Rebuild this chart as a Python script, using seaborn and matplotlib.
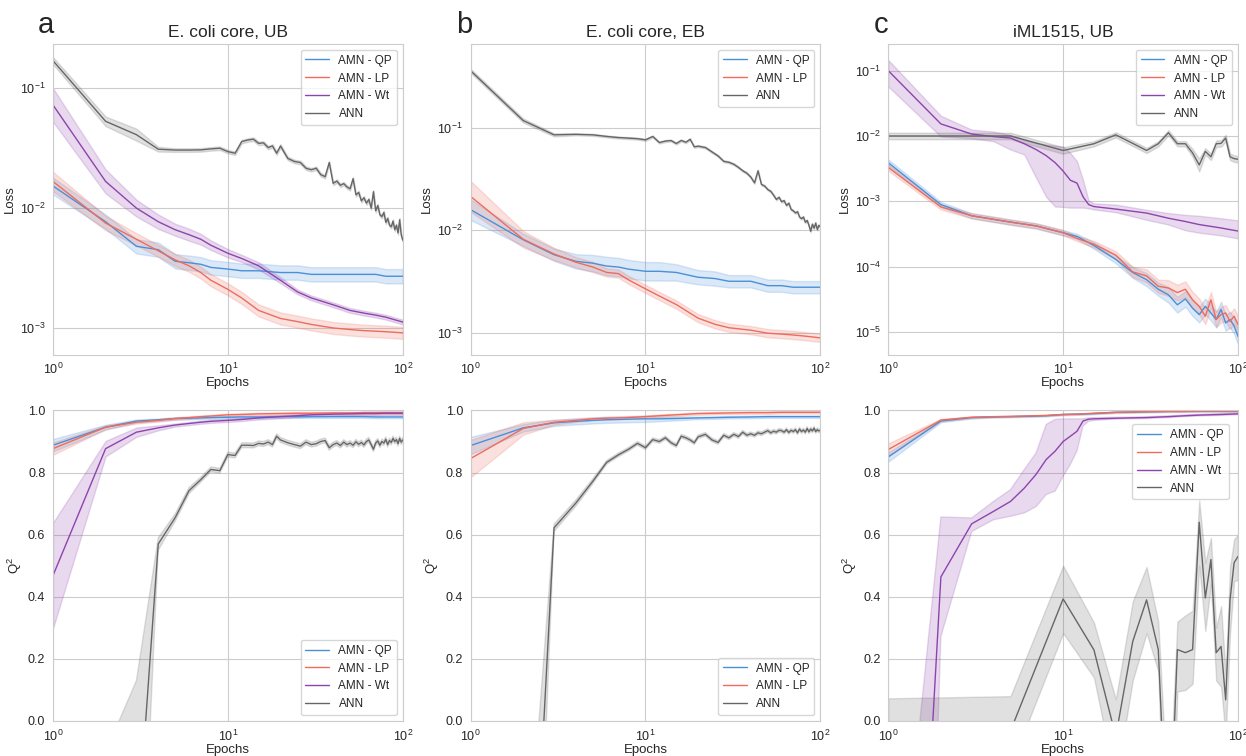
"""
    Loss and Q2 curves for AMN variants vs ANN
"""

import numpy as np
import pandas as pd
import seaborn as sns
import matplotlib.pyplot as plt

# ---------------------------------------------------------------- DATA
# epoch grids
E_S = [1, 2, 3, 4, 5, 6, 7, 8, 10, 12, 15, 20, 25, 30, 40, 50, 60, 70, 80, 90, 100]
E_N = list(range(1, 21)) + list(range(22, 101, 2))
E_C = [1, 2, 3, 5, 7, 10, 12, 15, 20, 25, 30, 35, 40, 45, 50, 55, 60, 65, 70, 75, 80, 85, 90, 95, 100]
E_W = [1, 2, 3, 4, 5, 6, 7, 8, 9, 10, 11, 12, 13, 14, 15, 20, 30, 40, 50, 60, 80, 100]
E_5 = [1, 5, 10, 15, 20, 25, 30, 35, 40, 45, 50, 55, 60, 65, 70, 75, 80, 85, 90, 95, 100]

# panel a, loss (E. coli core, UB)
a_loss_qp = [0.0153, 0.0077, 0.0048, 0.0045, 0.0036, 0.0035, 0.0034, 0.0032, 0.0031, 0.0030, 0.0030,
             0.0029, 0.0029, 0.0028, 0.0028, 0.0028, 0.0028, 0.0028, 0.0027, 0.0027, 0.0027]
a_loss_lp = [0.0167, 0.0075, 0.0055, 0.0044, 0.0037, 0.0033, 0.0029, 0.0025, 0.0021, 0.00178, 0.0014,
             0.0012, 0.00113, 0.00107, 0.0010, 0.00097, 0.00095, 0.00094, 0.00093, 0.00092, 0.00091]
a_loss_wt = [0.0726, 0.0167, 0.0100, 0.0077, 0.0066, 0.0060, 0.0055, 0.0049, 0.0042, 0.0038, 0.0033,
             0.0025, 0.0020, 0.00178, 0.00156, 0.0014, 0.00133, 0.00128, 0.00123, 0.00117, 0.00112]
a_loss_ann = [0.17, 0.053, 0.041, 0.031, 0.0305, 0.0305, 0.0306, 0.0312, 0.0316, 0.0296,
              0.0287, 0.0359, 0.037, 0.0376, 0.0347, 0.035, 0.032, 0.033, 0.0287, 0.033,
              0.026, 0.0245, 0.024, 0.0215, 0.0209, 0.0215, 0.019, 0.0183, 0.024, 0.0161,
              0.0168, 0.0155, 0.016, 0.015, 0.0145, 0.0176, 0.0129, 0.0135, 0.0115, 0.0122,
              0.011, 0.0118, 0.010, 0.0137, 0.0095, 0.0105, 0.0088, 0.0085, 0.0092, 0.0076,
              0.0082, 0.0072, 0.0070, 0.0078, 0.0066, 0.0072, 0.0062, 0.0080, 0.0060, 0.0054]
a_loss_qp_w = [0.07, 0.06]
a_loss_lp_w = [0.08, 0.06, 0.05]
a_loss_wt_w = [0.14, 0.1, 0.07, 0.06, 0.05, 0.05, 0.045, 0.04, 0.035, 0.03, 0.03, 0.025, 0.02]
a_loss_ann_w = [0.03, 0.04, 0.05, 0.02, 0.015]

# panel b, loss (E. coli core, EB)
b_loss_qp = [0.0159, 0.0081, 0.0058, 0.0050, 0.0048, 0.0045, 0.0044, 0.0042, 0.0040, 0.0040, 0.0039,
             0.0035, 0.0034, 0.0032, 0.0032, 0.0029, 0.0029, 0.0028, 0.0028, 0.0028, 0.0028]
b_loss_lp = [0.0214, 0.0082, 0.0059, 0.0049, 0.0044, 0.0039, 0.0038, 0.0033, 0.0027, 0.0023, 0.0019,
             0.0014, 0.00122, 0.00113, 0.00107, 0.0010, 0.00098, 0.00096, 0.00094, 0.00092, 0.0009]
b_loss_ann = [0.357, 0.117, 0.085, 0.086, 0.085, 0.082, 0.080, 0.079, 0.078, 0.076,
              0.082, 0.0715, 0.074, 0.0748, 0.070, 0.075, 0.072, 0.077, 0.065, 0.066,
              0.064, 0.058, 0.053, 0.047, 0.046, 0.044, 0.041, 0.038, 0.036, 0.033,
              0.029, 0.038, 0.028, 0.027, 0.025, 0.024, 0.022, 0.020, 0.021, 0.019,
              0.0195, 0.0175, 0.0184, 0.016, 0.0155, 0.0148, 0.0152, 0.0135, 0.013, 0.0135,
              0.012, 0.0125, 0.0112, 0.0098, 0.0115, 0.0105, 0.0118, 0.0102, 0.0112, 0.0108]
b_loss_qp_w = [0.1, 0.06, 0.06, 0.07, 0.08, 0.09, 0.09, 0.09, 0.09, 0.09, 0.08, 0.07, 0.07, 0.06]
b_loss_lp_w = [0.15, 0.08, 0.06, 0.05, 0.05, 0.04]
b_loss_ann_w = [0.02, 0.02, 0.015, 0.01]

# panel c, loss (iML1515, UB)
c_loss_qp = [0.0039, 0.00089, 0.0006, 0.00048, 0.00042, 0.00033, 0.00029, 0.00021, 0.000129,
             8.1e-5, 6.3e-5, 4.5e-5, 3.7e-5, 2.6e-5, 3.2e-5, 2.3e-5, 1.84e-5, 2.46e-5, 1.95e-5,
             1.55e-5, 2.2e-5, 1.37e-5, 1.55e-5, 1.23e-5, 8.5e-6]
c_loss_lp = [0.0033, 0.00082, 0.0006, 0.00048, 0.00042, 0.00033, 0.00027, 0.00022, 0.00015,
             8.3e-5, 7.2e-5, 5.0e-5, 4.7e-5, 4.0e-5, 4.5e-5, 3.1e-5, 2.46e-5, 1.74e-5, 3.1e-5,
             1.55e-5, 1.84e-5, 1.95e-5, 1.45e-5, 1.74e-5, 1.3e-5]
c_loss_wt = [0.1, 0.0153, 0.0107, 0.0098, 0.0093, 0.0076, 0.0062, 0.0050, 0.0039, 0.0029, 0.0021,
             0.0019, 0.00117, 0.00089, 0.00083, 0.00076, 0.00066, 0.00055, 0.00049, 0.00044,
             0.00039, 0.00035]
c_loss_wt_lo = [0.057, 0.0098, 0.0092, 0.0083, 0.0062, 0.0052, 0.0023, 0.00117, 0.00083, 0.00082,
                0.0008, 0.0008, 0.0008, 0.00078, 0.00075, 0.00068, 0.00052, 0.00044, 0.00036,
                0.00033, 0.0003, 0.00027]
c_loss_wt_hi = [0.146, 0.0204, 0.0125, 0.0117, 0.0104, 0.0087, 0.0078, 0.0074, 0.0071, 0.0069,
                0.0055, 0.0041, 0.0021, 0.00102, 0.00093, 0.00089, 0.00074, 0.00066, 0.00062,
                0.0006, 0.00055, 0.00051]
c_loss_ann = [0.0100, 0.0100, 0.0060, 0.0076, 0.0104, 0.0077, 0.0060, 0.0076, 0.0112, 0.0076,
              0.0076, 0.0055, 0.0036, 0.0058, 0.0048, 0.0076, 0.0077, 0.0093, 0.0048, 0.0045, 0.0044]
c_loss_qp_w = [0.05, 0.04, 0.04, 0.04, 0.04, 0.04, 0.04, 0.05, 0.06, 0.08, 0.1, 0.1, 0.12]
c_loss_lp_w = [0.05, 0.04, 0.04, 0.04, 0.04, 0.04, 0.04, 0.05, 0.06, 0.08, 0.1, 0.1, 0.12]
c_loss_ann_w = [0.05, 0.05, 0.05, 0.04, 0.04, 0.04, 0.04, 0.04, 0.04, 0.04, 0.04, 0.06, 0.1, 0.05]

# panel a, Q2
a_q2_qp = [0.888, 0.946, 0.966, 0.970, 0.974, 0.975, 0.976, 0.977, 0.978, 0.979, 0.979,
           0.980, 0.980, 0.980, 0.980, 0.980, 0.980, 0.979, 0.979, 0.979, 0.979]
a_q2_lp = [0.877, 0.946, 0.962, 0.968, 0.974, 0.977, 0.980, 0.982, 0.986, 0.987, 0.989,
           0.990, 0.991, 0.991, 0.992, 0.992, 0.993, 0.993, 0.993, 0.993, 0.993]
a_q2_wt = [0.468, 0.877, 0.930, 0.944, 0.953, 0.958, 0.962, 0.965, 0.968, 0.971, 0.976,
           0.980, 0.983, 0.986, 0.988, 0.989, 0.990, 0.990, 0.991, 0.991, 0.991]
a_q2_ann = [-3.0, -1.2, -0.42, 0.57, 0.655, 0.742, 0.777, 0.81, 0.806, 0.858,
            0.855, 0.888, 0.888, 0.887, 0.894, 0.892, 0.898, 0.89, 0.917, 0.905,
            0.896, 0.89, 0.885, 0.898, 0.89, 0.893, 0.9, 0.903, 0.88, 0.89,
            0.895, 0.887, 0.898, 0.89, 0.895, 0.888, 0.899, 0.891, 0.897, 0.889,
            0.9, 0.905, 0.89, 0.875, 0.895, 0.902, 0.888, 0.9, 0.895, 0.907,
            0.89, 0.903, 0.897, 0.91, 0.9, 0.906, 0.893, 0.91, 0.898, 0.905]
a_q2_qp_w = [0.02, 0.008, 0.005, 0.004]
a_q2_lp_w = [0.02, 0.006, 0.004]
a_q2_wt_w = [0.17, 0.025, 0.015, 0.008, 0.005]
a_q2_ann_w = [1.0, 1.1, 0.55, 0.02, 0.012, 0.01, 0.008]

# panel b, Q2
b_q2_qp = [0.887, 0.944, 0.960, 0.965, 0.968, 0.970, 0.971, 0.972, 0.973, 0.973, 0.974,
           0.976, 0.977, 0.978, 0.979, 0.980, 0.980, 0.980, 0.980, 0.980, 0.980]
b_q2_lp = [0.845, 0.942, 0.962, 0.968, 0.973, 0.975, 0.976, 0.977, 0.980, 0.983, 0.986,
           0.990, 0.991, 0.992, 0.993, 0.993, 0.994, 0.994, 0.994, 0.994, 0.994]
b_q2_ann = [-4.0, -1.26, 0.622, 0.702, 0.772, 0.833, 0.857, 0.875, 0.894, 0.88,
            0.906, 0.90, 0.912, 0.896, 0.887, 0.917, 0.912, 0.905, 0.896, 0.915,
            0.923, 0.905, 0.897, 0.92, 0.912, 0.923, 0.916, 0.93, 0.92, 0.925,
            0.92, 0.928, 0.925, 0.93, 0.935, 0.928, 0.933, 0.93, 0.936, 0.935,
            0.93, 0.938, 0.929, 0.936, 0.932, 0.938, 0.928, 0.94, 0.932, 0.937,
            0.93, 0.942, 0.931, 0.94, 0.934, 0.943, 0.932, 0.938, 0.934, 0.936]
b_q2_qp_w = [0.028, 0.012, 0.01, 0.01, 0.01, 0.01, 0.01, 0.01, 0.01, 0.008, 0.006, 0.004]
b_q2_lp_w = [0.06, 0.02, 0.008, 0.005, 0.004]
b_q2_ann_w = [2.0, 0.6, 0.012, 0.01, 0.008, 0.006]

# panel c, Q2
c_q2_qp = [0.85, 0.966, 0.977, 0.979, 0.980, 0.981, 0.982, 0.983, 0.987, 0.988, 0.990,
           0.994, 0.995, 0.996, 0.997, 0.997, 0.998, 0.998, 0.998, 0.998, 0.998]
c_q2_lp = [0.874, 0.969, 0.978, 0.980, 0.981, 0.982, 0.983, 0.984, 0.987, 0.988, 0.991,
           0.994, 0.995, 0.996, 0.997, 0.997, 0.998, 0.998, 0.998, 0.998, 0.998]
c_q2_wt = [-2.57, 0.464, 0.635, 0.675, 0.707, 0.75, 0.794, 0.842, 0.869, 0.90, 0.917,
           0.933, 0.966, 0.972, 0.973, 0.975, 0.977, 0.980, 0.983, 0.985, 0.987, 0.989]
c_q2_wt_lo = [-5.0, 0.272, 0.61, 0.648, 0.659, 0.67, 0.69, 0.729, 0.74, 0.788, 0.826,
              0.869, 0.95, 0.965, 0.968, 0.972, 0.974, 0.977, 0.98, 0.982, 0.984, 0.986]
c_q2_wt_hi = [-0.99, 0.657, 0.654, 0.707, 0.745, 0.81, 0.863, 0.955, 0.971, 0.973, 0.973,
              0.973, 0.973, 0.976, 0.977, 0.978, 0.98, 0.983, 0.986, 0.988, 0.99, 0.992]
c_q2_ann = [-0.03, -0.032, 0.393, 0.229, -0.05, 0.256, 0.39, 0.23, -0.5, 0.23, 0.22,
            0.23, 0.64, 0.396, 0.52, 0.22, 0.24, 0.068, 0.39, 0.51, 0.53]
c_q2_ann_lo = [-0.14, -0.147, 0.283, 0.14, -0.2, 0.13, 0.283, 0.16, -0.8, 0.095, 0.10,
               0.12, 0.5, 0.29, 0.44, 0.13, 0.11, -0.05, 0.283, 0.45, 0.455]
c_q2_ann_hi = [0.073, 0.08, 0.50, 0.317, 0.07, 0.385, 0.496, 0.32, -0.3, 0.32, 0.34,
               0.355, 0.71, 0.51, 0.59, 0.30, 0.37, 0.15, 0.496, 0.585, 0.60]
c_q2_qp_w = [0.015, 0.004, 0.003, 0.002]
c_q2_lp_w = [0.02, 0.004, 0.003, 0.002]

TITLES = ["E. coli core, UB", "E. coli core, EB", "iML1515, UB"]
LETTERS = ["a", "b", "c"]
COLORS = {"AMN - QP": "#4a90d9", "AMN - LP": "#ee6b5d",
          "AMN - Wt": "#8e44ad", "ANN": "#666666"}


def band(mid, w, log=False):
    """lower / upper band edges from a half width (dex for log data)"""
    w = list(w)
    w = w + [w[-1]] * (len(mid) - len(w))
    mid = np.asarray(mid, float)
    w = np.asarray(w, float)
    if log:
        return mid / 10 ** w, mid * 10 ** w
    return mid - w, mid + w


def series(name, x, mid, w=None, lo=None, hi=None, log=False):
    if w is not None:
        lo, hi = band(mid, w, log)
    return (name, x, mid, lo, hi)


def frame(all_series):
    rows = []
    for name, x, mid, lo, hi in all_series:
        for xi, l, m, h in zip(x, lo, mid, hi):
            rows += [(name, xi, l), (name, xi, m), (name, xi, h)]
    return pd.DataFrame(rows, columns=["model", "epoch", "value"])


def panel(ax, all_series, log_y, legend_kw):
    ax.set_xscale("log")
    if log_y:
        ax.set_yscale("log")
    df = frame(all_series)
    order = [s[0] for s in all_series]
    sns.lineplot(data=df, x="epoch", y="value", hue="model", hue_order=order,
                 palette=COLORS, estimator="median", errorbar=("pi", 100),
                 linewidth=1.0, ax=ax)
    ax.set_xlim(1, 100)
    ax.set_xlabel("Epochs", labelpad=0)
    sns.move_legend(ax, title=None, fontsize=8.5, frameon=True, **legend_kw)


# ---------------------------------------------------------------- PLOTTING
sns.set_style("whitegrid")
plt.rcParams["font.family"] = ["Liberation Sans", "DejaVu Sans"]
plt.rcParams["mathtext.fontset"] = "custom"
plt.rcParams["mathtext.rm"] = "Liberation Sans"
plt.rcParams["mathtext.it"] = "Liberation Sans:italic"
plt.rcParams["xtick.labelsize"] = 9
plt.rcParams["ytick.labelsize"] = 9
plt.rcParams["xtick.major.pad"] = 2
plt.rcParams["ytick.major.pad"] = 2
plt.rcParams["axes.labelsize"] = 9.5

fig, axes = plt.subplots(2, 3, figsize=(12.46, 7.56), dpi=100)
fig.subplots_adjust(left=0.0425, right=0.9936, top=0.9418, bottom=0.0463,
                    wspace=0.194, hspace=0.18)

top_right = dict(loc="upper right")

# Loss row
panel(axes[0, 0], [series("AMN - QP", E_S, a_loss_qp, a_loss_qp_w, log=True),
                   series("AMN - LP", E_S, a_loss_lp, a_loss_lp_w, log=True),
                   series("AMN - Wt", E_S, a_loss_wt, a_loss_wt_w, log=True),
                   series("ANN", E_N, a_loss_ann, a_loss_ann_w, log=True)], True, top_right)
axes[0, 0].set_ylim(6e-4, 0.234)

panel(axes[0, 1], [series("AMN - QP", E_S, b_loss_qp, b_loss_qp_w, log=True),
                   series("AMN - LP", E_S, b_loss_lp, b_loss_lp_w, log=True),
                   series("ANN", E_N, b_loss_ann, b_loss_ann_w, log=True)], True, top_right)
axes[0, 1].set_ylim(6.2e-4, 0.65)

panel(axes[0, 2], [series("AMN - QP", E_C, c_loss_qp, c_loss_qp_w, log=True),
                   series("AMN - LP", E_C, c_loss_lp, c_loss_lp_w, log=True),
                   series("AMN - Wt", E_W, c_loss_wt, lo=c_loss_wt_lo, hi=c_loss_wt_hi),
                   series("ANN", E_5, c_loss_ann, c_loss_ann_w, log=True)], True, top_right)
axes[0, 2].set_ylim(4.5e-6, 0.256)

for i, ax in enumerate(axes[0]):
    ax.set_ylabel("Loss", labelpad=3)
    ax.set_title(TITLES[i], fontsize=12.5, pad=5)

# Q2 row
panel(axes[1, 0], [series("AMN - QP", E_S, a_q2_qp, a_q2_qp_w),
                   series("AMN - LP", E_S, a_q2_lp, a_q2_lp_w),
                   series("AMN - Wt", E_S, a_q2_wt, a_q2_wt_w),
                   series("ANN", E_N, a_q2_ann, a_q2_ann_w)], False, dict(loc="lower right"))
panel(axes[1, 1], [series("AMN - QP", E_S, b_q2_qp, b_q2_qp_w),
                   series("AMN - LP", E_S, b_q2_lp, b_q2_lp_w),
                   series("ANN", E_N, b_q2_ann, b_q2_ann_w)], False, dict(loc="lower right"))
panel(axes[1, 2], [series("AMN - QP", E_S, c_q2_qp, c_q2_qp_w),
                   series("AMN - LP", E_S, c_q2_lp, c_q2_lp_w),
                   series("AMN - Wt", E_W, c_q2_wt, lo=c_q2_wt_lo, hi=c_q2_wt_hi),
                   series("ANN", E_5, c_q2_ann, lo=c_q2_ann_lo, hi=c_q2_ann_hi)], False,
      dict(loc="upper right", bbox_to_anchor=(0.99, 0.975)))

for ax in axes[1]:
    ax.set_ylim(0, 1)
    ax.set_ylabel("Q$^2$", labelpad=3)

for i, ax in enumerate(axes[0]):
    pos = ax.get_position()
    fig.text(pos.x0 - 0.012, 0.956, LETTERS[i], fontsize=21, ha="left", va="baseline")

plt.savefig("out.png", dpi=100)
